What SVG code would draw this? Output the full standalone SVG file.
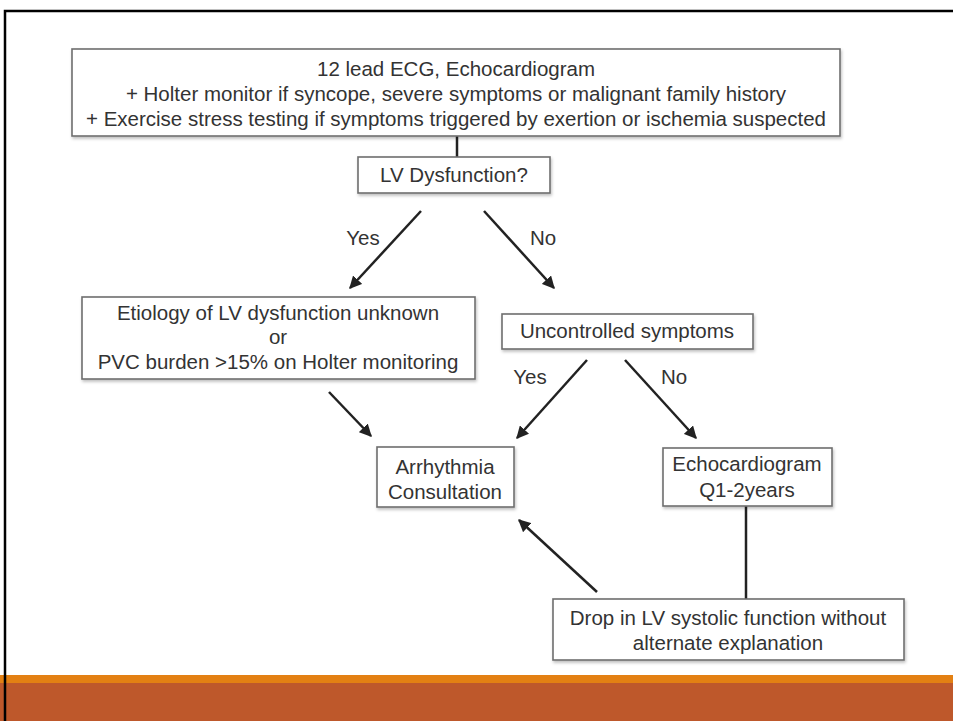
<svg xmlns="http://www.w3.org/2000/svg" width="953" height="721" viewBox="0 0 953 721">
<style>
.box{fill:#fff;stroke:#6e6e6e;stroke-width:1.6;filter:url(#sh)}
.t{font-family:"Liberation Sans",Arial,sans-serif;font-size:20.5px;fill:#333;text-anchor:middle}
.c{stroke:#222;stroke-width:2.5;fill:none}
.a{marker-end:url(#ah)}
</style>
<defs>
<filter id="sh" x="-5%" y="-20%" width="110%" height="140%">
<feDropShadow dx="1" dy="2" stdDeviation="1.5" flood-color="#000" flood-opacity="0.25"/>
</filter>
<marker id="ah" viewBox="0 0 10 10" refX="9" refY="5" markerWidth="5" markerHeight="5" markerUnits="strokeWidth" orient="auto">
<path d="M0,0 L10,5 L0,10 z" fill="#222"/>
</marker>
</defs>
<rect x="0" y="0" width="953" height="721" fill="#fff"/>
<rect x="0" y="675" width="953" height="8" fill="#E38013"/>
<rect x="0" y="683" width="953" height="38" fill="#BE582B"/>
<path d="M953,11 H5 V721" fill="none" stroke="#000" stroke-width="2.5"/>

<g id="connectors">
<line class="c" x1="457" y1="136" x2="457" y2="157"/>
<line class="c a" x1="421" y1="211" x2="350" y2="288"/>
<line class="c a" x1="484" y1="211" x2="554" y2="288"/>
<line class="c a" x1="329" y1="392" x2="371" y2="436"/>
<line class="c a" x1="587" y1="360" x2="517" y2="438"/>
<line class="c a" x1="625" y1="360" x2="696" y2="438"/>
<line class="c" x1="746" y1="506" x2="746" y2="599"/>
<line class="c a" x1="597" y1="592" x2="519" y2="520"/>
<text class="t" x="363" y="245">Yes</text>
<text class="t" x="543" y="245">No</text>
<text class="t" x="530" y="384">Yes</text>
<text class="t" x="674" y="384">No</text>
</g>

<g id="top">
<rect class="box" x="72" y="49" width="768" height="87"/>
<text class="t" x="456" y="76">12 lead ECG, Echocardiogram</text>
<text class="t" x="456" y="101">+ Holter monitor if syncope, severe symptoms or malignant family history</text>
<text class="t" x="456" y="126">+ Exercise stress testing if symptoms triggered by exertion or ischemia suspected</text>
</g>
<g id="lvdys">
<rect class="box" x="358" y="157" width="192" height="36"/>
<text class="t" x="454" y="182">LV Dysfunction?</text>
</g>
<g id="etiology">
<rect class="box" x="82" y="297" width="393" height="82"/>
<text class="t" x="278" y="320">Etiology of LV dysfunction unknown</text>
<text class="t" x="278" y="344">or</text>
<text class="t" x="278" y="369">PVC burden &gt;15% on Holter monitoring</text>
</g>
<g id="uncontrolled">
<rect class="box" x="502" y="314" width="251" height="35"/>
<text class="t" x="627" y="338">Uncontrolled symptoms</text>
</g>
<g id="arrhythmia">
<rect class="box" x="377" y="447" width="137" height="60"/>
<text class="t" x="445" y="474">Arrhythmia</text>
<text class="t" x="445" y="499">Consultation</text>
</g>
<g id="echo">
<rect class="box" x="663" y="448" width="169" height="58"/>
<text class="t" x="747" y="471">Echocardiogram</text>
<text class="t" x="747" y="497">Q1-2years</text>
</g>
<g id="drop">
<rect class="box" x="553" y="599" width="351" height="61"/>
<text class="t" x="728" y="625">Drop in LV systolic function without</text>
<text class="t" x="728" y="650">alternate explanation</text>
</g>
</svg>
